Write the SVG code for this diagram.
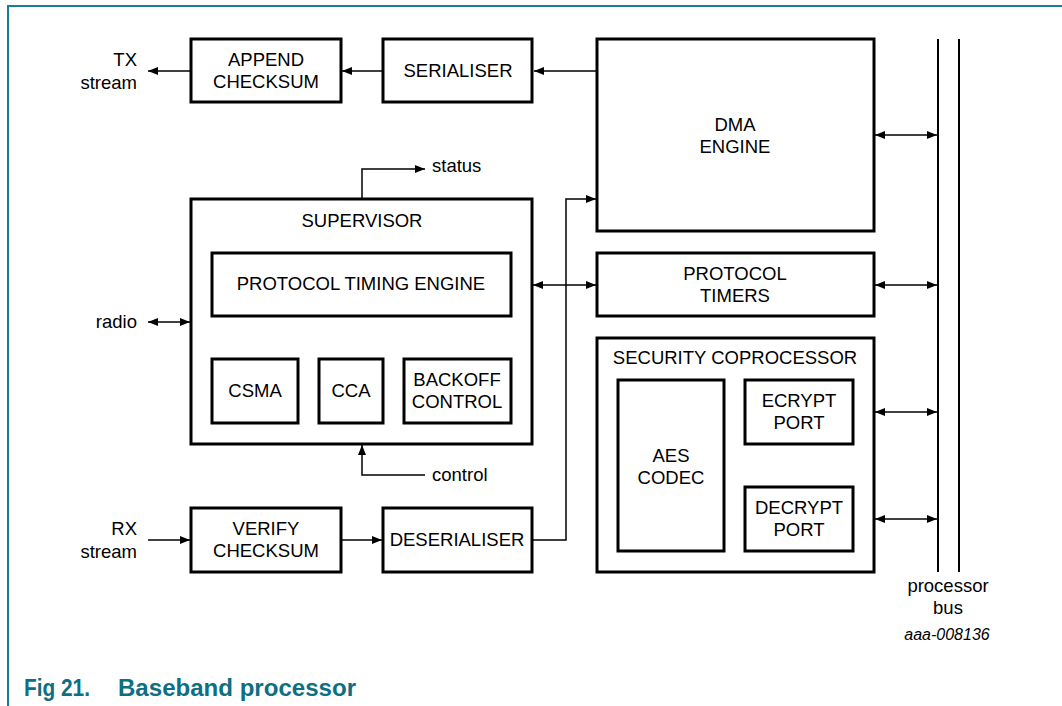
<svg xmlns="http://www.w3.org/2000/svg" width="1062" height="706" viewBox="0 0 1062 706">
<style>
.box{fill:#fff;stroke:#000;stroke-width:3}
.ln{fill:none;stroke:#000;stroke-width:1.5}
.bus{fill:none;stroke:#000;stroke-width:2}
text{font-family:"Liberation Sans",Arial,sans-serif;font-size:18.5px;fill:#000}
.c{text-anchor:middle}
.r{text-anchor:end}
.cap{font-size:23px;font-weight:bold;fill:#0e6e82}
.id{font-size:16px;font-style:italic}
</style>
<defs>
<marker id="ah" viewBox="0 0 10 10" refX="10" refY="5" markerWidth="10" markerHeight="10" markerUnits="userSpaceOnUse" orient="auto-start-reverse">
<path d="M0,1 L10,5 L0,9 Z" fill="#000"/>
</marker>
</defs>
<rect width="1062" height="706" fill="#fff"/>
<path d="M8,706 L8,6 L1062,6" fill="none" stroke="#1a7f93" stroke-width="2"/>

<g id="connectors">
<line class="ln" x1="383" y1="71" x2="342" y2="71" marker-end="url(#ah)"/>
<line class="ln" x1="191" y1="71" x2="148" y2="71" marker-end="url(#ah)"/>
<line class="ln" x1="597" y1="71" x2="534" y2="71" marker-end="url(#ah)"/>
<polyline class="ln" points="362,199 362,169 425,169" marker-end="url(#ah)"/>
<polyline class="ln" points="532,540 566,540 566,199 596,199" marker-end="url(#ah)"/>
<line class="ln" x1="533" y1="285" x2="596" y2="285" marker-start="url(#ah)" marker-end="url(#ah)"/>
<line class="ln" x1="148" y1="322" x2="190" y2="322" marker-start="url(#ah)" marker-end="url(#ah)"/>
<polyline class="ln" points="425,475 362,475 362,445" marker-end="url(#ah)"/>
<line class="ln" x1="148" y1="540" x2="190" y2="540" marker-end="url(#ah)"/>
<line class="ln" x1="341" y1="540" x2="382" y2="540" marker-end="url(#ah)"/>
<line class="ln" x1="875" y1="135" x2="937" y2="135" marker-start="url(#ah)" marker-end="url(#ah)"/>
<line class="ln" x1="875" y1="285" x2="937" y2="285" marker-start="url(#ah)" marker-end="url(#ah)"/>
<line class="ln" x1="875" y1="412" x2="937" y2="412" marker-start="url(#ah)" marker-end="url(#ah)"/>
<line class="ln" x1="875" y1="519" x2="937" y2="519" marker-start="url(#ah)" marker-end="url(#ah)"/>
</g>

<g id="bus">
<line class="bus" x1="938" y1="39" x2="938" y2="572"/>
<line class="bus" x1="959" y1="39" x2="959" y2="572"/>
<text class="c" x="948" y="592">processor</text>
<text class="c" x="948" y="614">bus</text>
</g>

<g id="append"><rect class="box" x="191" y="39" width="150" height="63"/><text class="c" x="266" y="66">APPEND</text><text class="c" x="266" y="88">CHECKSUM</text></g>
<g id="serialiser"><rect class="box" x="383" y="39" width="149" height="63"/><text class="c" x="458" y="77">SERIALISER</text></g>
<g id="dma"><rect class="box" x="597" y="39" width="277" height="192"/><text class="c" x="735" y="131">DMA</text><text class="c" x="735" y="153">ENGINE</text></g>
<g id="supervisor"><rect class="box" x="191" y="199" width="341" height="245"/><text class="c" x="362" y="227">SUPERVISOR</text></g>
<g id="pte"><rect class="box" x="212" y="253" width="299" height="63"/><text class="c" x="361" y="290">PROTOCOL TIMING ENGINE</text></g>
<g id="csma"><rect class="box" x="212" y="359" width="86" height="64"/><text class="c" x="255" y="397">CSMA</text></g>
<g id="cca"><rect class="box" x="319" y="359" width="64" height="64"/><text class="c" x="351" y="397">CCA</text></g>
<g id="backoff"><rect class="box" x="404" y="359" width="107" height="64"/><text class="c" x="457" y="386">BACKOFF</text><text class="c" x="457" y="408">CONTROL</text></g>
<g id="timers"><rect class="box" x="597" y="253" width="277" height="63"/><text class="c" x="735" y="280">PROTOCOL</text><text class="c" x="735" y="302">TIMERS</text></g>
<g id="security"><rect class="box" x="597" y="338" width="277" height="234"/><text class="c" x="735" y="364">SECURITY COPROCESSOR</text></g>
<g id="aes"><rect class="box" x="618" y="380" width="106" height="171"/><text class="c" x="671" y="462">AES</text><text class="c" x="671" y="484">CODEC</text></g>
<g id="ecrypt"><rect class="box" x="745" y="380" width="108" height="64"/><text class="c" x="799" y="407">ECRYPT</text><text class="c" x="799" y="429">PORT</text></g>
<g id="decrypt"><rect class="box" x="745" y="487" width="108" height="64"/><text class="c" x="799" y="514">DECRYPT</text><text class="c" x="799" y="536">PORT</text></g>
<g id="verify"><rect class="box" x="191" y="508" width="150" height="64"/><text class="c" x="266" y="535">VERIFY</text><text class="c" x="266" y="557">CHECKSUM</text></g>
<g id="deserialiser"><rect class="box" x="383" y="508" width="149" height="64"/><text class="c" x="457" y="546">DESERIALISER</text></g>

<g id="labels">
<text class="r" x="137" y="66">TX</text>
<text class="r" x="137" y="89">stream</text>
<text x="432" y="172">status</text>
<text class="r" x="137" y="328">radio</text>
<text x="432" y="481">control</text>
<text class="r" x="137" y="535">RX</text>
<text class="r" x="137" y="558">stream</text>
<text class="id c" x="947" y="640">aaa-008136</text>
<text class="cap" x="24" y="696" textLength="66" lengthAdjust="spacingAndGlyphs">Fig 21.</text>
<text class="cap" x="118" y="696" textLength="238" lengthAdjust="spacingAndGlyphs">Baseband processor</text>
</g>
</svg>
